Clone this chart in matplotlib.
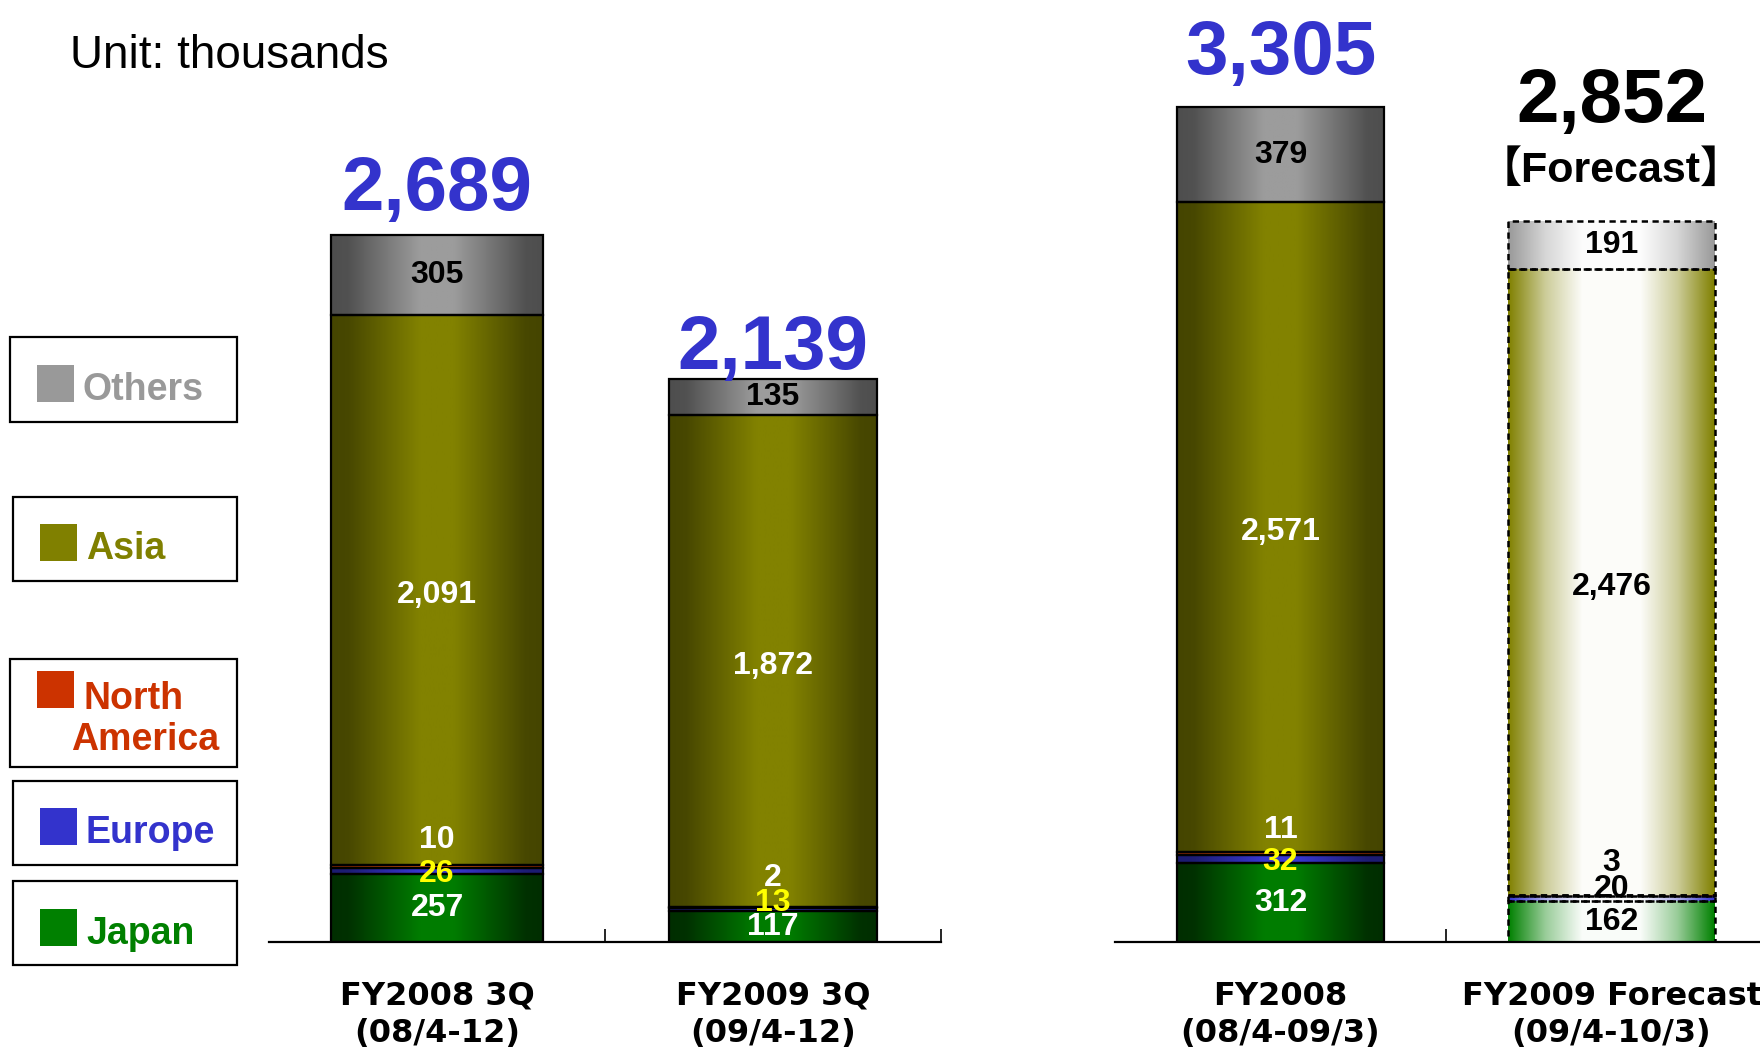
import numpy as np
import matplotlib.pyplot as plt
from matplotlib.patches import Rectangle

# unit shipments by region, in thousands
periods = ['FY2008 3Q\n(08/4-12)', 'FY2009 3Q\n(09/4-12)',
           'FY2008\n(08/4-09/3)', 'FY2009 Forecast\n(09/4-10/3)']
japan = [257, 117, 312, 162]
europe = [26, 13, 32, 20]
north_america = [10, 2, 11, 3]
asia = [2091, 1872, 2571, 2476]
others = [305, 135, 379, 191]
is_forecast = [False, False, False, True]

regions = ['Japan', 'Europe', 'North America', 'Asia', 'Others']
series = [japan, europe, north_america, asia, others]
totals = [sum(v) for v in zip(*series)]

# (dark edge, bright centre) for the shaded bars, flat colour for forecast/legend
shade = {
    'Japan': ('#002e00', '#007c00'),
    'Europe': ('#1c1c70', '#3838d0'),
    'North America': ('#a03000', '#ff6a10'),
    'Asia': ('#454500', '#828200'),
    'Others': ('#4e4e4e', '#9c9c9c'),
}
flat = {
    'Japan': '#008000',
    'Europe': '#3333cc',
    'North America': '#cc3300',
    'Asia': '#808000',
    'Others': '#999999',
}
label_color = {'Japan': 'white', 'Europe': '#ffff00', 'North America': 'white',
               'Asia': 'white', 'Others': 'black'}

W, H = 1760, 1051
fig = plt.figure(figsize=(W / 100, H / 100), dpi=100)

SANS = ['Liberation Sans', 'DejaVu Sans']


def px_axes(x0, x1, ybot, ytop):
    return fig.add_axes([x0 / W, 1 - ybot / H, (x1 - x0) / W, (ybot - ytop) / H])


ax_l = px_axes(269, 941, 942, 0)
ax_r = px_axes(1115, 1777, 942, 0)
ax_l.set_ylim(0, 3581)
ax_r.set_ylim(0, 3727)

t = np.linspace(0, 1, 256)
solid_profile = np.interp(t, [0, 0.08, 0.42, 0.58, 0.92, 1], [0, 0.04, 1, 1, 0.04, 0])
fc_profile = np.interp(t, [0, 0.03, 0.18, 0.36, 0.64, 0.82, 0.97, 1],
                       [0, 0.1, 0.6, 0.98, 0.98, 0.6, 0.1, 0])


def gradient(name, forecast):
    if forecast:
        edge = np.array(plt.matplotlib.colors.to_rgb(flat[name]))
        mid = np.ones(3)
        p = fc_profile
    else:
        edge = np.array(plt.matplotlib.colors.to_rgb(shade[name][0]))
        mid = np.array(plt.matplotlib.colors.to_rgb(shade[name][1]))
        p = solid_profile
    rgb = edge[None, :] + p[:, None] * (mid - edge)[None, :]
    return rgb[None, :, :]


# label offsets (pixels) for the thin Europe / North America layers
europe_dy = [-3, 7, -3, 10]
na_dy = [26, 30, 24, 33]
asia_dy = -5
total_dy = [25, 10, 33, 99]

bar_axes = [ax_l, ax_l, ax_r, ax_r]
bar_x = [0.5, 1.5, 0.5, 1.5]
bar_w = [0.63, 0.62, 0.625, 0.625]

for i in range(4):
    ax = bar_axes[i]
    fc = is_forecast[i]
    bottom = 0
    for name, vals in zip(regions, series):
        v = vals[i]
        rect = ax.bar(bar_x[i], v, bar_w[i], bottom=bottom, facecolor='none',
                      edgecolor='black', linewidth=1.8 if fc else 1.6,
                      linestyle=(0, (2.5, 1.8)) if fc else '-', zorder=3)[0]
        x0, y0 = rect.get_x(), rect.get_y()
        img = ax.imshow(gradient(name, fc), extent=[x0, x0 + rect.get_width(), y0, y0 + v],
                        aspect='auto', interpolation='bilinear', zorder=2)
        img.set_clip_path(rect)

        dy = 0
        if name == 'Europe':
            dy = europe_dy[i]
        elif name == 'North America':
            dy = na_dy[i]
        elif name == 'Asia':
            dy = asia_dy
        ax.annotate(f'{v:,}', (bar_x[i], bottom + v / 2), xytext=(0, dy),
                    textcoords='offset pixels', ha='center', va='center',
                    fontsize=23, fontweight='bold', family=SANS,
                    color='black' if fc else label_color[name], zorder=5)
        bottom += v

    ax.annotate(f'{totals[i]:,}', (bar_x[i], totals[i]), xytext=(0, total_dy[i]),
                textcoords='offset pixels', ha='center', va='baseline',
                fontsize=55, fontweight='bold', family=SANS,
                color='black' if fc else '#3333cc', zorder=5)
    if fc:
        ax.annotate('【Forecast】', (bar_x[i], totals[i]), xytext=(0, 51),
                    textcoords='offset pixels', ha='center', va='center',
                    fontsize=31, fontweight='bold',
                    family=['Liberation Sans', 'Noto Sans CJK JP'], zorder=5)

for ax, labels in ((ax_l, periods[:2]), (ax_r, periods[2:])):
    ax.set_xlim(0, 2)
    ax.set_xticks([1, 2])
    ax.set_xticklabels([])
    ax.set_xticks([0.5, 1.5], labels, minor=True)
    ax.tick_params(axis='x', which='major', direction='in', length=9.5, width=1.2)
    ax.tick_params(axis='x', which='minor', length=0, pad=28, labelsize=23)
    for lab in ax.get_xticklabels(minor=True):
        lab.set_fontweight('bold')
        lab.set_linespacing(1.25)
    ax.set_yticks([])
    for side in ('left', 'top', 'right'):
        ax.spines[side].set_visible(False)
    ax.spines['bottom'].set_linewidth(1.6)
    ax.patch.set_visible(False)

fig.text(70 / W, 1 - 56 / H, 'Unit: thousands', va='center', ha='left',
         fontsize=33, family=SANS)

# legend boxes on a pixel-space overlay
leg = fig.add_axes([0, 0, 1, 1])
leg.set_xlim(0, W)
leg.set_ylim(H, 0)
leg.axis('off')

legend_boxes = {
    'Others': (10, 337, 237, 422),
    'Asia': (13, 497, 237, 581),
    'North America': (10, 659, 237, 767),
    'Europe': (13, 781, 237, 865),
    'Japan': (13, 881, 237, 965),
}
legend_square = {
    'Others': (37, 365),
    'Asia': (40, 524),
    'North America': (37, 671),
    'Europe': (40, 808),
    'Japan': (40, 909),
}
for name in regions:
    x0, y0, x1, y1 = legend_boxes[name]
    leg.add_patch(Rectangle((x0, y0), x1 - x0, y1 - y0, facecolor='white',
                            edgecolor='black', linewidth=1.6))
    sx, sy = legend_square[name]
    leg.add_patch(Rectangle((sx, sy), 37, 37, facecolor=flat[name], edgecolor='none'))
    style = dict(fontsize=27, fontweight='bold', color=flat[name],
                 family=SANS, va='center', ha='left')
    if name == 'North America':
        leg.text(sx + 47, sy + 28, 'North', **style)
        leg.text(71, sy + 69, 'America', **style)
    else:
        leg.text(sx + 46, sy + 25, name, **style)

fig.savefig('out.png', dpi=100)
